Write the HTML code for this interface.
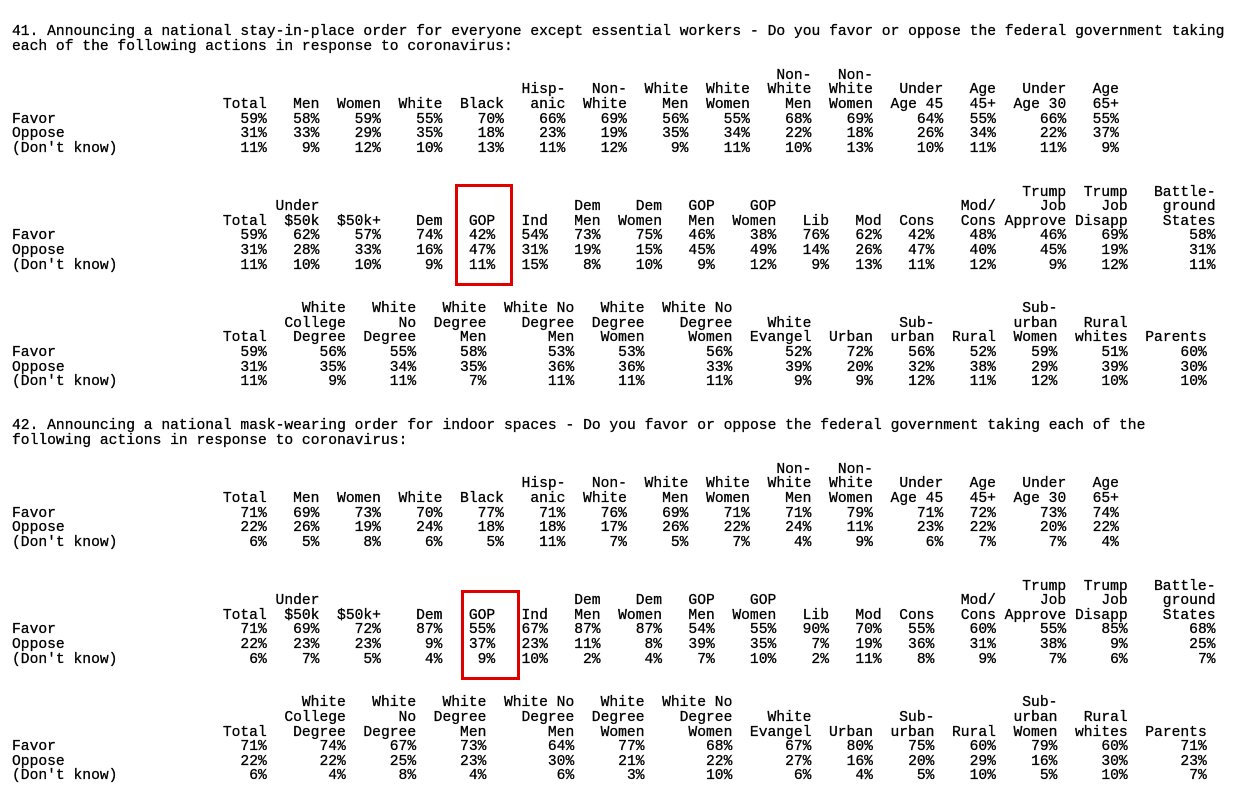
<!DOCTYPE html>
<html><head><meta charset="utf-8"><style>
html,body{margin:0;padding:0;background:#fff;width:1251px;height:796px;overflow:hidden}
#w{position:absolute;left:12px;top:25px;font-family:"Liberation Mono",monospace;font-size:14.65px;color:#000;-webkit-text-stroke:0.3px #000}
.r{height:14.6px;line-height:14.6px;white-space:pre}
.r i{display:inline-block;font-style:normal;text-align:right;white-space:pre;vertical-align:top;height:14.6px}
.r i:first-child{width:23ch;text-align:left}
.b1 i:nth-child(2),.b1 i:nth-child(3),.b1 i:nth-child(14),.b1 i:nth-child(16){width:6ch}
.b1 i:nth-child(n+4):nth-child(-n+12){width:7ch}
.b1 i:nth-child(13),.b1 i:nth-child(15){width:8ch}
.b2 i:nth-child(2),.b2 i:nth-child(3),.b2 i:nth-child(6),.b2 i:nth-child(7),.b2 i:nth-child(8),.b2 i:nth-child(10),.b2 i:nth-child(12),.b2 i:nth-child(13),.b2 i:nth-child(14){width:6ch}
.b2 i:nth-child(4),.b2 i:nth-child(5),.b2 i:nth-child(9),.b2 i:nth-child(11),.b2 i:nth-child(15),.b2 i:nth-child(17){width:7ch}
.b2 i:nth-child(16){width:8ch}
.b2 i:nth-child(18){width:10ch}
.b3 i:nth-child(2){width:6ch}
.b3 i:nth-child(3),.b3 i:nth-child(9),.b3 i:nth-child(15){width:9ch}
.b3 i:nth-child(4),.b3 i:nth-child(5),.b3 i:nth-child(7),.b3 i:nth-child(14){width:8ch}
.b3 i:nth-child(10),.b3 i:nth-child(11),.b3 i:nth-child(12),.b3 i:nth-child(13){width:7ch}
.b3 i:nth-child(6),.b3 i:nth-child(8){width:10ch}
.box{position:absolute;border:3px solid #e00000;box-sizing:border-box}
</style></head><body>
<div id="w">
<div class="r">41. Announcing a national stay-in-place order for everyone except essential workers - Do you favor or oppose the federal government taking</div>
<div class="r">each of the following actions in response to coronavirus:</div>
<div class="r"> </div>
<div class="r b1"><i></i><i></i><i></i><i></i><i></i><i></i><i></i><i></i><i></i><i></i><i>Non-</i><i>Non-</i></div>
<div class="r b1"><i></i><i></i><i></i><i></i><i></i><i></i><i>Hisp-</i><i>Non-</i><i>White</i><i>White</i><i>White</i><i>White</i><i>Under</i><i>Age</i><i>Under</i><i>Age</i></div>
<div class="r b1"><i></i><i>Total</i><i>Men</i><i>Women</i><i>White</i><i>Black</i><i>anic</i><i>White</i><i>Men</i><i>Women</i><i>Men</i><i>Women</i><i>Age 45</i><i>45+</i><i>Age 30</i><i>65+</i></div>
<div class="r b1"><i>Favor</i><i>59%</i><i>58%</i><i>59%</i><i>55%</i><i>70%</i><i>66%</i><i>69%</i><i>56%</i><i>55%</i><i>68%</i><i>69%</i><i>64%</i><i>55%</i><i>66%</i><i>55%</i></div>
<div class="r b1"><i>Oppose</i><i>31%</i><i>33%</i><i>29%</i><i>35%</i><i>18%</i><i>23%</i><i>19%</i><i>35%</i><i>34%</i><i>22%</i><i>18%</i><i>26%</i><i>34%</i><i>22%</i><i>37%</i></div>
<div class="r b1"><i>(Don't know)</i><i>11%</i><i>9%</i><i>12%</i><i>10%</i><i>13%</i><i>11%</i><i>12%</i><i>9%</i><i>11%</i><i>10%</i><i>13%</i><i>10%</i><i>11%</i><i>11%</i><i>9%</i></div>
<div class="r"> </div>
<div class="r"> </div>
<div class="r b2"><i></i><i></i><i></i><i></i><i></i><i></i><i></i><i></i><i></i><i></i><i></i><i></i><i></i><i></i><i></i><i>Trump</i><i>Trump</i><i>Battle-</i></div>
<div class="r b2"><i></i><i></i><i>Under</i><i></i><i></i><i></i><i></i><i>Dem</i><i>Dem</i><i>GOP</i><i>GOP</i><i></i><i></i><i></i><i>Mod/</i><i>Job</i><i>Job</i><i>ground</i></div>
<div class="r b2"><i></i><i>Total</i><i>$50k</i><i>$50k+</i><i>Dem</i><i>GOP</i><i>Ind</i><i>Men</i><i>Women</i><i>Men</i><i>Women</i><i>Lib</i><i>Mod</i><i>Cons</i><i>Cons</i><i>Approve</i><i>Disapp</i><i>States</i></div>
<div class="r b2"><i>Favor</i><i>59%</i><i>62%</i><i>57%</i><i>74%</i><i>42%</i><i>54%</i><i>73%</i><i>75%</i><i>46%</i><i>38%</i><i>76%</i><i>62%</i><i>42%</i><i>48%</i><i>46%</i><i>69%</i><i>58%</i></div>
<div class="r b2"><i>Oppose</i><i>31%</i><i>28%</i><i>33%</i><i>16%</i><i>47%</i><i>31%</i><i>19%</i><i>15%</i><i>45%</i><i>49%</i><i>14%</i><i>26%</i><i>47%</i><i>40%</i><i>45%</i><i>19%</i><i>31%</i></div>
<div class="r b2"><i>(Don't know)</i><i>11%</i><i>10%</i><i>10%</i><i>9%</i><i>11%</i><i>15%</i><i>8%</i><i>10%</i><i>9%</i><i>12%</i><i>9%</i><i>13%</i><i>11%</i><i>12%</i><i>9%</i><i>12%</i><i>11%</i></div>
<div class="r"> </div>
<div class="r"> </div>
<div class="r b3"><i></i><i></i><i>White</i><i>White</i><i>White</i><i>White No</i><i>White</i><i>White No</i><i></i><i></i><i></i><i></i><i>Sub-</i></div>
<div class="r b3"><i></i><i></i><i>College</i><i>No</i><i>Degree</i><i>Degree</i><i>Degree</i><i>Degree</i><i>White</i><i></i><i>Sub-</i><i></i><i>urban</i><i>Rural</i></div>
<div class="r b3"><i></i><i>Total</i><i>Degree</i><i>Degree</i><i>Men</i><i>Men</i><i>Women</i><i>Women</i><i>Evangel</i><i>Urban</i><i>urban</i><i>Rural</i><i>Women</i><i>whites</i><i>Parents</i></div>
<div class="r b3"><i>Favor</i><i>59%</i><i>56%</i><i>55%</i><i>58%</i><i>53%</i><i>53%</i><i>56%</i><i>52%</i><i>72%</i><i>56%</i><i>52%</i><i>59%</i><i>51%</i><i>60%</i></div>
<div class="r b3"><i>Oppose</i><i>31%</i><i>35%</i><i>34%</i><i>35%</i><i>36%</i><i>36%</i><i>33%</i><i>39%</i><i>20%</i><i>32%</i><i>38%</i><i>29%</i><i>39%</i><i>30%</i></div>
<div class="r b3"><i>(Don't know)</i><i>11%</i><i>9%</i><i>11%</i><i>7%</i><i>11%</i><i>11%</i><i>11%</i><i>9%</i><i>9%</i><i>12%</i><i>11%</i><i>12%</i><i>10%</i><i>10%</i></div>
<div class="r"> </div>
<div class="r"> </div>
<div class="r">42. Announcing a national mask-wearing order for indoor spaces - Do you favor or oppose the federal government taking each of the</div>
<div class="r">following actions in response to coronavirus:</div>
<div class="r"> </div>
<div class="r b1"><i></i><i></i><i></i><i></i><i></i><i></i><i></i><i></i><i></i><i></i><i>Non-</i><i>Non-</i></div>
<div class="r b1"><i></i><i></i><i></i><i></i><i></i><i></i><i>Hisp-</i><i>Non-</i><i>White</i><i>White</i><i>White</i><i>White</i><i>Under</i><i>Age</i><i>Under</i><i>Age</i></div>
<div class="r b1"><i></i><i>Total</i><i>Men</i><i>Women</i><i>White</i><i>Black</i><i>anic</i><i>White</i><i>Men</i><i>Women</i><i>Men</i><i>Women</i><i>Age 45</i><i>45+</i><i>Age 30</i><i>65+</i></div>
<div class="r b1"><i>Favor</i><i>71%</i><i>69%</i><i>73%</i><i>70%</i><i>77%</i><i>71%</i><i>76%</i><i>69%</i><i>71%</i><i>71%</i><i>79%</i><i>71%</i><i>72%</i><i>73%</i><i>74%</i></div>
<div class="r b1"><i>Oppose</i><i>22%</i><i>26%</i><i>19%</i><i>24%</i><i>18%</i><i>18%</i><i>17%</i><i>26%</i><i>22%</i><i>24%</i><i>11%</i><i>23%</i><i>22%</i><i>20%</i><i>22%</i></div>
<div class="r b1"><i>(Don't know)</i><i>6%</i><i>5%</i><i>8%</i><i>6%</i><i>5%</i><i>11%</i><i>7%</i><i>5%</i><i>7%</i><i>4%</i><i>9%</i><i>6%</i><i>7%</i><i>7%</i><i>4%</i></div>
<div class="r"> </div>
<div class="r"> </div>
<div class="r b2"><i></i><i></i><i></i><i></i><i></i><i></i><i></i><i></i><i></i><i></i><i></i><i></i><i></i><i></i><i></i><i>Trump</i><i>Trump</i><i>Battle-</i></div>
<div class="r b2"><i></i><i></i><i>Under</i><i></i><i></i><i></i><i></i><i>Dem</i><i>Dem</i><i>GOP</i><i>GOP</i><i></i><i></i><i></i><i>Mod/</i><i>Job</i><i>Job</i><i>ground</i></div>
<div class="r b2"><i></i><i>Total</i><i>$50k</i><i>$50k+</i><i>Dem</i><i>GOP</i><i>Ind</i><i>Men</i><i>Women</i><i>Men</i><i>Women</i><i>Lib</i><i>Mod</i><i>Cons</i><i>Cons</i><i>Approve</i><i>Disapp</i><i>States</i></div>
<div class="r b2"><i>Favor</i><i>71%</i><i>69%</i><i>72%</i><i>87%</i><i>55%</i><i>67%</i><i>87%</i><i>87%</i><i>54%</i><i>55%</i><i>90%</i><i>70%</i><i>55%</i><i>60%</i><i>55%</i><i>85%</i><i>68%</i></div>
<div class="r b2"><i>Oppose</i><i>22%</i><i>23%</i><i>23%</i><i>9%</i><i>37%</i><i>23%</i><i>11%</i><i>8%</i><i>39%</i><i>35%</i><i>7%</i><i>19%</i><i>36%</i><i>31%</i><i>38%</i><i>9%</i><i>25%</i></div>
<div class="r b2"><i>(Don't know)</i><i>6%</i><i>7%</i><i>5%</i><i>4%</i><i>9%</i><i>10%</i><i>2%</i><i>4%</i><i>7%</i><i>10%</i><i>2%</i><i>11%</i><i>8%</i><i>9%</i><i>7%</i><i>6%</i><i>7%</i></div>
<div class="r"> </div>
<div class="r"> </div>
<div class="r b3"><i></i><i></i><i>White</i><i>White</i><i>White</i><i>White No</i><i>White</i><i>White No</i><i></i><i></i><i></i><i></i><i>Sub-</i></div>
<div class="r b3"><i></i><i></i><i>College</i><i>No</i><i>Degree</i><i>Degree</i><i>Degree</i><i>Degree</i><i>White</i><i></i><i>Sub-</i><i></i><i>urban</i><i>Rural</i></div>
<div class="r b3"><i></i><i>Total</i><i>Degree</i><i>Degree</i><i>Men</i><i>Men</i><i>Women</i><i>Women</i><i>Evangel</i><i>Urban</i><i>urban</i><i>Rural</i><i>Women</i><i>whites</i><i>Parents</i></div>
<div class="r b3"><i>Favor</i><i>71%</i><i>74%</i><i>67%</i><i>73%</i><i>64%</i><i>77%</i><i>68%</i><i>67%</i><i>80%</i><i>75%</i><i>60%</i><i>79%</i><i>60%</i><i>71%</i></div>
<div class="r b3"><i>Oppose</i><i>22%</i><i>22%</i><i>25%</i><i>23%</i><i>30%</i><i>21%</i><i>22%</i><i>27%</i><i>16%</i><i>20%</i><i>29%</i><i>16%</i><i>30%</i><i>23%</i></div>
<div class="r b3"><i>(Don't know)</i><i>6%</i><i>4%</i><i>8%</i><i>4%</i><i>6%</i><i>3%</i><i>10%</i><i>6%</i><i>4%</i><i>5%</i><i>10%</i><i>5%</i><i>10%</i><i>7%</i></div>
</div>
<div class="box" style="left:455px;top:184px;width:58px;height:102px"></div>
<div class="box" style="left:461px;top:590px;width:59px;height:90px"></div>
</body></html>
